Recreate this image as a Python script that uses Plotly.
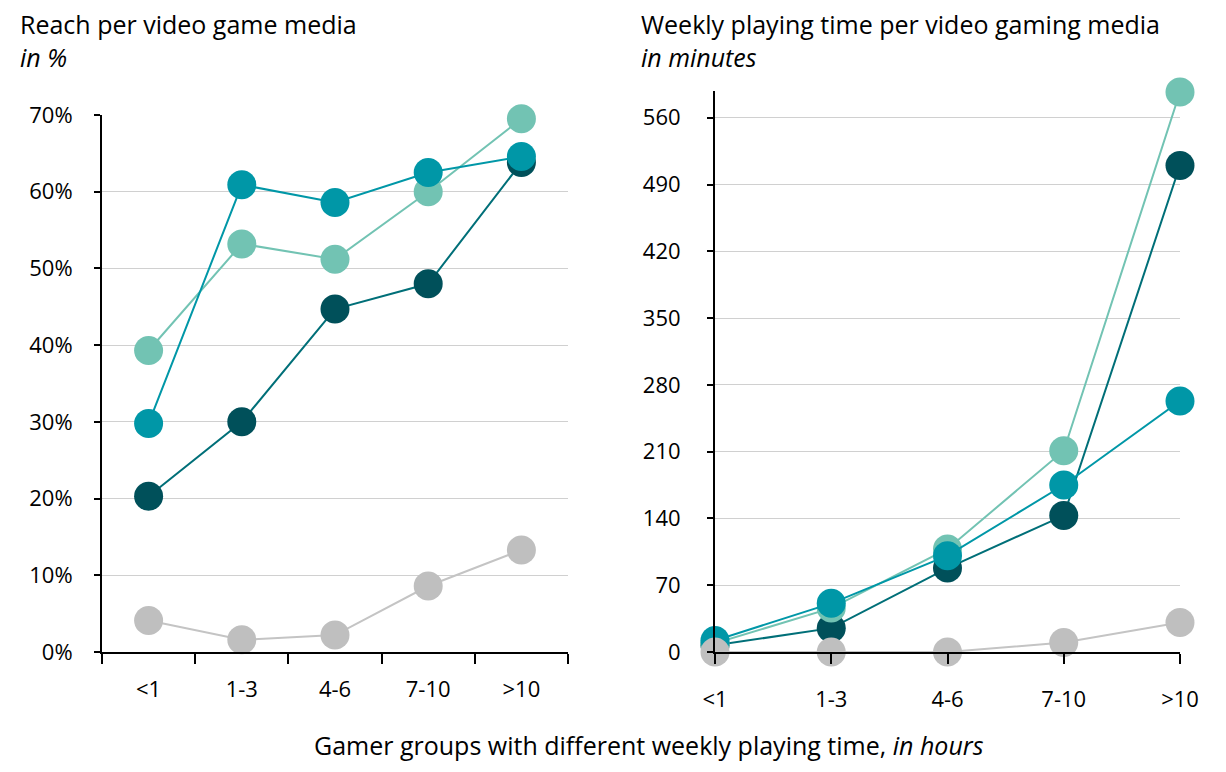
import plotly.graph_objects as go

groups = ['<1', '1-3', '4-6', '7-10', '>10']

# reach in %
reach_dark = [20.3, 30.0, 44.7, 48.0, 63.8]
reach_light = [39.3, 53.2, 51.2, 60.0, 69.5]
reach_teal = [29.8, 60.9, 58.6, 62.5, 64.6]
reach_grey = [4.1, 1.6, 2.2, 8.6, 13.3]

# weekly playing time in minutes
time_dark = [7, 25, 88, 143, 510]
time_light = [9, 46, 108, 211, 587]
time_teal = [12, 51, 101, 175, 263]
time_grey = [0, 0, 0, 10, 31]

colors = {
    'dark': ('#00505a', '#006f78'),
    'light': ('#72c3b3', '#72c3b3'),
    'teal': ('#0097a7', '#0097a7'),
    'grey': ('#bfbfbf', '#c4c4c4'),
}

FONT = 'Open Sans'

fig = go.Figure()

def add_series(vals, key, xa, ya):
    mcol, lcol = colors[key]
    fig.add_trace(go.Scatter(
        x=groups, y=vals, mode='lines+markers',
        line=dict(color=lcol, width=2),
        marker=dict(color=mcol, size=29),
        xaxis=xa, yaxis=ya, cliponaxis=False, showlegend=False,
        hoverinfo='x+y'))

# left panel (dark first so teal sits on top)
for vals, key in [(reach_dark, 'dark'), (reach_light, 'light'),
                  (reach_teal, 'teal'), (reach_grey, 'grey')]:
    add_series(vals, key, 'x', 'y')

# right panel
for vals, key in [(time_dark, 'dark'), (time_light, 'light'),
                  (time_teal, 'teal'), (time_grey, 'grey')]:
    add_series(vals, key, 'x2', 'y2')

# the page body adds an 8px margin, so lay out in a slightly smaller figure
OFF = 8
W, H = 1226 - 2 * OFF, 772 - 2 * OFF
def px_x(p):
    return (p - OFF) / W
def px_y(p):
    return 1 - (p - OFF) / H

axis_font = dict(family=FONT, size=22, color='#000000')

common_x = dict(type='category', ticks='outside', ticklen=10, tickwidth=2,
                tickcolor='#000000', showline=True, linecolor='#000000', linewidth=2,
                showgrid=False, tickfont=axis_font, fixedrange=True,
                automargin=False, ticklabelstandoff=17)
common_y = dict(ticks='outside', ticklen=6, tickwidth=2, tickcolor='#000000',
                showline=True, linecolor='#000000', linewidth=2,
                showgrid=True, gridcolor='#d0d0d0', gridwidth=1, zeroline=False,
                tickfont=axis_font, fixedrange=True, automargin=False)

fig.update_layout(
    template='none',
    width=W, height=H,
    margin=dict(l=0, r=0, t=0, b=0),
    paper_bgcolor='white', plot_bgcolor='white',
    font=dict(family=FONT, color='#000000'),
    xaxis=dict(common_x, domain=[px_x(102), px_x(568)], anchor='y',
               range=[-0.5, 4.5], tickson='boundaries'),
    yaxis=dict(common_y, domain=[px_y(652), px_y(115)], anchor='x',
               range=[0, 70], dtick=10, ticksuffix='%', ticklabelstandoff=17),
    xaxis2=dict(common_x, domain=[px_x(715), px_x(1180)], anchor='y2',
                range=[0, 4]),
    yaxis2=dict(common_y, domain=[px_y(652), px_y(91)], anchor='x2',
                range=[0, 588], tickvals=[0, 70, 140, 210, 280, 350, 420, 490, 560],
                ticklabelstandoff=22),
)

ann_font = dict(family=FONT, size=25, color='#000000')
fig.add_annotation(text='Reach per video game media<br><i>in %</i>',
                   x=px_x(18), y=px_y(41), align='left',
                   xref='paper', yref='paper', xanchor='left', yanchor='middle',
                   showarrow=False, font=ann_font)
fig.add_annotation(text='Weekly playing time per video gaming media<br><i>in minutes</i>',
                   x=px_x(639), y=px_y(40), align='left',
                   xref='paper', yref='paper', xanchor='left', yanchor='middle',
                   showarrow=False, font=ann_font)
fig.add_annotation(text='Gamer groups with different weekly playing time, <i>in hours</i>',
                   x=px_x(649), y=0,
                   xref='paper', yref='paper', xanchor='center', yanchor='bottom',
                   showarrow=False, font=ann_font)

fig.write_html("out.html")
